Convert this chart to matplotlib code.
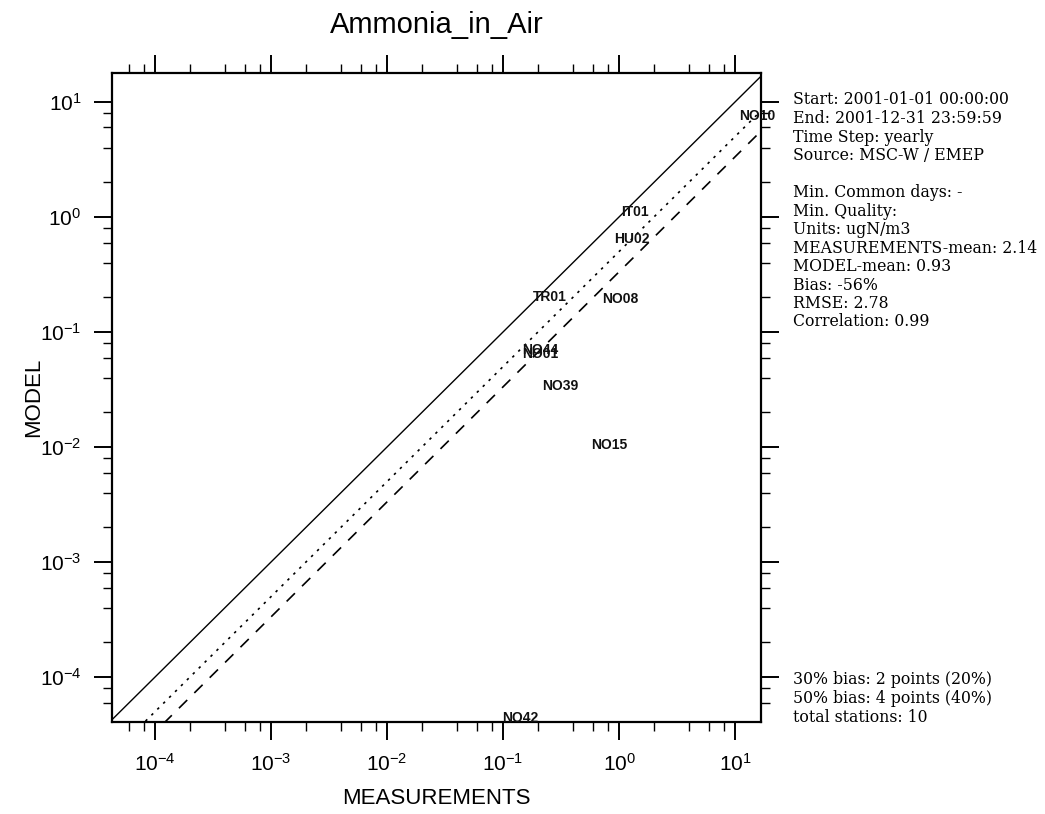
import numpy as np
import matplotlib
matplotlib.use("Agg")
import matplotlib.pyplot as plt
from matplotlib.ticker import LogLocator, NullFormatter

# station values (ugN/m3)
stations = ["NO10", "IT01", "HU02", "TR01", "NO08", "NO44", "NO01", "NO39", "NO15", "NO42"]
measured = [15.5, 1.37, 1.29, 0.254, 1.02, 0.208, 0.21, 0.31, 0.82, 0.14]
modelled = [7.55, 1.10, 0.644, 0.201, 0.194, 0.0697, 0.0645, 0.0339, 0.0104, 4.4e-5]

info_top = ["Start: 2001-01-01 00:00:00", "End: 2001-12-31 23:59:59",
            "Time Step: yearly", "Source: MSC-W / EMEP", "",
            "Min. Common days: -", "Min. Quality:", "Units: ugN/m3",
            "MEASUREMENTS-mean: 2.14", "MODEL-mean: 0.93", "Bias: -56%",
            "RMSE: 2.78", "Correlation: 0.99"]
info_bottom = ["30% bias: 2 points (20%)", "50% bias: 4 points (40%)",
               "total stations: 10"]

plt.rcParams["font.family"] = ["Liberation Sans", "DejaVu Sans"]
plt.rcParams["axes.unicode_minus"] = False

W, H = 1045, 814
fig = plt.figure(figsize=(W / 100, H / 100), dpi=100)
ax = fig.add_axes([112 / W, 1 - 722 / H, 649 / W, 649 / H])

xlim = (10 ** -4.371, 10 ** 1.224)
ylim = (10 ** -4.391, 10 ** 1.252)
ax.set_xscale("log"); ax.set_yscale("log")
ax.set_xlim(xlim); ax.set_ylim(ylim)

xx = np.array([1e-6, 1e3])
ax.plot(xx, xx, color="k", lw=1.0)
ax.plot(xx, xx * 0.5, color="k", lw=1.2, ls=(0, (1.5, 3.5)))
ax.plot(xx, xx / 3, color="k", lw=1.2, ls=(0, (7, 6)))

for name, mx, my in zip(stations, measured, modelled):
    ax.text(mx, my, name, ha="center", va="center", fontsize=10,
            fontweight="bold", color="#111111", clip_on=False)

for axis in (ax.xaxis, ax.yaxis):
    axis.set_major_locator(LogLocator(base=10, numticks=20))
    axis.set_minor_locator(LogLocator(base=10, subs=(2, 4, 6, 8), numticks=20))
    axis.set_minor_formatter(NullFormatter())
ax.tick_params(which="both", direction="out", top=True, right=True, width=1.4, color="k")
ax.tick_params(which="major", length=13, labelsize=15, pad=9)
ax.tick_params(which="minor", length=6.5, width=1.0)
for s in ax.spines.values():
    s.set_linewidth(1.6)

ax.set_xlabel("MEASUREMENTS", fontsize=16, labelpad=10)
ax.set_ylabel("MODEL", fontsize=16, labelpad=-3)
ax.set_title("Ammonia_in_Air", fontsize=21, pad=29)

tx = 793 / W
for i, line in enumerate(info_top):
    fig.text(tx, 1 - (100 + i * 18.5) / H, line, family="DejaVu Serif",
             fontsize=11.3, va="center", ha="left")
for i, line in enumerate(info_bottom):
    fig.text(tx, 1 - (680 + i * 18.5) / H, line, family="DejaVu Serif",
             fontsize=11.3, va="center", ha="left")

fig.savefig("out.png", dpi=100)
